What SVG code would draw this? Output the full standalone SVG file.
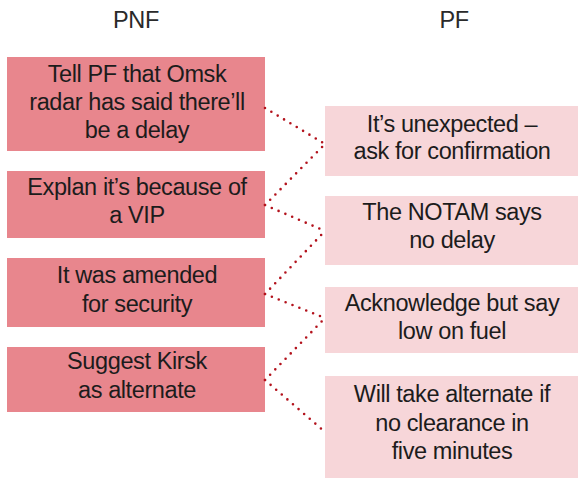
<svg xmlns="http://www.w3.org/2000/svg" width="580" height="478" viewBox="0 0 580 478">
  <style>
    .pnf rect { fill: #e8868d; }
    .pf rect { fill: #f7d6d9; }
    text { font-family: "Liberation Sans", Arial, sans-serif; font-size: 23.5px; fill: #1c1c1c; text-anchor: middle; letter-spacing: -0.4px; }
    .head { fill: #2a2a2a; }
    .link { fill: none; stroke: #b3121c; stroke-width: 2.6; stroke-linecap: round; stroke-dasharray: 0 7.4; }
  </style>

  <!-- column headings -->
  <text class="head" x="136" y="28">PNF</text>
  <text class="head" x="454" y="28">PF</text>

  <!-- left column -->
  <g id="pnf1" class="pnf">
    <rect x="7" y="57" width="258" height="94"/>
    <text x="137" y="82">Tell PF that Omsk</text>
    <text x="137" y="110">radar has said there’ll</text>
    <text x="137" y="138">be a delay</text>
  </g>
  <g id="pnf2" class="pnf">
    <rect x="7" y="171" width="258" height="67"/>
    <text x="137" y="195">Explan it’s because of</text>
    <text x="137" y="223">a VIP</text>
  </g>
  <g id="pnf3" class="pnf">
    <rect x="7" y="258" width="258" height="69"/>
    <text x="137" y="283">It was amended</text>
    <text x="137" y="312">for security</text>
  </g>
  <g id="pnf4" class="pnf">
    <rect x="7" y="347" width="258" height="65"/>
    <text x="137" y="369">Suggest Kirsk</text>
    <text x="137" y="398">as alternate</text>
  </g>

  <!-- right column -->
  <g id="pf1" class="pf">
    <rect x="325" y="106" width="253" height="70"/>
    <text x="452" y="132">It’s unexpected –</text>
    <text x="452" y="159">ask for confirmation</text>
  </g>
  <g id="pf2" class="pf">
    <rect x="325" y="196" width="253" height="69"/>
    <text x="452" y="220">The NOTAM says</text>
    <text x="452" y="248">no delay</text>
  </g>
  <g id="pf3" class="pf">
    <rect x="325" y="287" width="253" height="66"/>
    <text x="452" y="311">Acknowledge but say</text>
    <text x="452" y="339">low on fuel</text>
  </g>
  <g id="pf4" class="pf">
    <rect x="325" y="376" width="253" height="102"/>
    <text x="452" y="402">Will take alternate if</text>
    <text x="452" y="431">no clearance in</text>
    <text x="452" y="459">five minutes</text>
  </g>

  <!-- dotted links -->
  <g id="links">
    <path class="link" d="M265 108 L325 144"/>
    <path class="link" d="M265 205 L325 144"/>
    <path class="link" d="M265 205 L325 231"/>
    <path class="link" d="M265 294 L325 231"/>
    <path class="link" d="M265 294 L325 318"/>
    <path class="link" d="M265 380 L325 318"/>
    <path class="link" d="M265 380 L325 432"/>
  </g>
</svg>
